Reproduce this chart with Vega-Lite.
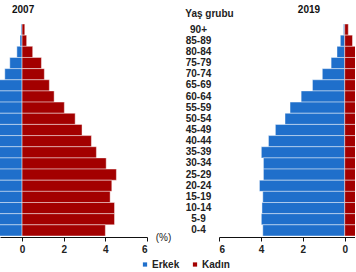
{
  "$schema": "https://vega.github.io/schema/vega-lite/v6.json",
  "padding": {"left": 0, "top": 4, "right": 0, "bottom": 0},
  "bounds": "flush",
  "spacing": 72,
  "config": {
    "view": {"stroke": null},
    "font": "Liberation Sans",
    "axis": {
      "labelFont": "Liberation Sans", "labelFontSize": 10, "labelFontWeight": "bold", "labelColor": "#222",
      "titleFont": "Liberation Sans", "titleFontSize": 10, "titleFontWeight": "bold", "titleColor": "#222",
      "grid": false, "domainColor": "#111", "tickColor": "#111"
    },
    "title": {"font": "Liberation Sans", "fontSize": 10, "fontWeight": "bold", "color": "#111"}
  },
  "data": {"values": [
    {"year": 2007, "age": "90+", "sex": "Erkek", "value": 0.05},
    {"year": 2007, "age": "85-89", "sex": "Erkek", "value": 0.1},
    {"year": 2007, "age": "80-84", "sex": "Erkek", "value": 0.25},
    {"year": 2007, "age": "75-79", "sex": "Erkek", "value": 0.59},
    {"year": 2007, "age": "70-74", "sex": "Erkek", "value": 0.83},
    {"year": 2007, "age": "65-69", "sex": "Erkek", "value": 1.15},
    {"year": 2007, "age": "60-64", "sex": "Erkek", "value": 1.45},
    {"year": 2007, "age": "55-59", "sex": "Erkek", "value": 2.0},
    {"year": 2007, "age": "50-54", "sex": "Erkek", "value": 2.55},
    {"year": 2007, "age": "45-49", "sex": "Erkek", "value": 2.95},
    {"year": 2007, "age": "40-44", "sex": "Erkek", "value": 3.4},
    {"year": 2007, "age": "35-39", "sex": "Erkek", "value": 3.65},
    {"year": 2007, "age": "30-34", "sex": "Erkek", "value": 4.1},
    {"year": 2007, "age": "25-29", "sex": "Erkek", "value": 4.6},
    {"year": 2007, "age": "20-24", "sex": "Erkek", "value": 4.4},
    {"year": 2007, "age": "15-19", "sex": "Erkek", "value": 4.3},
    {"year": 2007, "age": "10-14", "sex": "Erkek", "value": 4.6},
    {"year": 2007, "age": "5-9", "sex": "Erkek", "value": 4.6},
    {"year": 2007, "age": "0-4", "sex": "Erkek", "value": 4.2},
    {"year": 2007, "age": "90+", "sex": "Kadın", "value": 0.13},
    {"year": 2007, "age": "85-89", "sex": "Kadın", "value": 0.22},
    {"year": 2007, "age": "80-84", "sex": "Kadın", "value": 0.51},
    {"year": 2007, "age": "75-79", "sex": "Kadın", "value": 0.93},
    {"year": 2007, "age": "70-74", "sex": "Kadın", "value": 1.07},
    {"year": 2007, "age": "65-69", "sex": "Kadın", "value": 1.31},
    {"year": 2007, "age": "60-64", "sex": "Kadın", "value": 1.54},
    {"year": 2007, "age": "55-59", "sex": "Kadın", "value": 2.03},
    {"year": 2007, "age": "50-54", "sex": "Kadın", "value": 2.55},
    {"year": 2007, "age": "45-49", "sex": "Kadın", "value": 2.88},
    {"year": 2007, "age": "40-44", "sex": "Kadın", "value": 3.33},
    {"year": 2007, "age": "35-39", "sex": "Kadın", "value": 3.57},
    {"year": 2007, "age": "30-34", "sex": "Kadın", "value": 4.04},
    {"year": 2007, "age": "25-29", "sex": "Kadın", "value": 4.53},
    {"year": 2007, "age": "20-24", "sex": "Kadın", "value": 4.31},
    {"year": 2007, "age": "15-19", "sex": "Kadın", "value": 4.23},
    {"year": 2007, "age": "10-14", "sex": "Kadın", "value": 4.44},
    {"year": 2007, "age": "5-9", "sex": "Kadın", "value": 4.44},
    {"year": 2007, "age": "0-4", "sex": "Kadın", "value": 4.0},
    {"year": 2019, "age": "90+", "sex": "Erkek", "value": 0.06},
    {"year": 2019, "age": "85-89", "sex": "Erkek", "value": 0.21},
    {"year": 2019, "age": "80-84", "sex": "Erkek", "value": 0.37},
    {"year": 2019, "age": "75-79", "sex": "Erkek", "value": 0.65},
    {"year": 2019, "age": "70-74", "sex": "Erkek", "value": 1.07},
    {"year": 2019, "age": "65-69", "sex": "Erkek", "value": 1.54},
    {"year": 2019, "age": "60-64", "sex": "Erkek", "value": 2.08},
    {"year": 2019, "age": "55-59", "sex": "Erkek", "value": 2.61},
    {"year": 2019, "age": "50-54", "sex": "Erkek", "value": 2.85},
    {"year": 2019, "age": "45-49", "sex": "Erkek", "value": 3.31},
    {"year": 2019, "age": "40-44", "sex": "Erkek", "value": 3.64},
    {"year": 2019, "age": "35-39", "sex": "Erkek", "value": 3.98},
    {"year": 2019, "age": "30-34", "sex": "Erkek", "value": 3.88},
    {"year": 2019, "age": "25-29", "sex": "Erkek", "value": 3.88},
    {"year": 2019, "age": "20-24", "sex": "Erkek", "value": 4.07},
    {"year": 2019, "age": "15-19", "sex": "Erkek", "value": 3.91},
    {"year": 2019, "age": "10-14", "sex": "Erkek", "value": 3.95},
    {"year": 2019, "age": "5-9", "sex": "Erkek", "value": 3.98},
    {"year": 2019, "age": "0-4", "sex": "Erkek", "value": 3.91},
    {"year": 2019, "age": "90+", "sex": "Kadın", "value": 0.17},
    {"year": 2019, "age": "85-89", "sex": "Kadın", "value": 0.37},
    {"year": 2019, "age": "80-84", "sex": "Kadın", "value": 0.6},
    {"year": 2019, "age": "75-79", "sex": "Kadın", "value": 0.85},
    {"year": 2019, "age": "70-74", "sex": "Kadın", "value": 1.25},
    {"year": 2019, "age": "65-69", "sex": "Kadın", "value": 1.65},
    {"year": 2019, "age": "60-64", "sex": "Kadın", "value": 2.1},
    {"year": 2019, "age": "55-59", "sex": "Kadın", "value": 2.6},
    {"year": 2019, "age": "50-54", "sex": "Kadın", "value": 2.85},
    {"year": 2019, "age": "45-49", "sex": "Kadın", "value": 3.3},
    {"year": 2019, "age": "40-44", "sex": "Kadın", "value": 3.55},
    {"year": 2019, "age": "35-39", "sex": "Kadın", "value": 3.85},
    {"year": 2019, "age": "30-34", "sex": "Kadın", "value": 3.75},
    {"year": 2019, "age": "25-29", "sex": "Kadın", "value": 3.7},
    {"year": 2019, "age": "20-24", "sex": "Kadın", "value": 3.85},
    {"year": 2019, "age": "15-19", "sex": "Kadın", "value": 3.7},
    {"year": 2019, "age": "10-14", "sex": "Kadın", "value": 3.75},
    {"year": 2019, "age": "5-9", "sex": "Kadın", "value": 3.78},
    {"year": 2019, "age": "0-4", "sex": "Kadın", "value": 3.7}
  ]},
  "transform": [
    {"calculate": "datum.sex === 'Erkek' ? -datum.value : datum.value", "as": "signed"}
  ],
  "hconcat": [
    {
      "title": {"text": "2007", "anchor": "start", "dx": 12, "offset": 1.5, "baseline": "alphabetic"},
      "width": 147,
      "height": 212,
      "transform": [{"filter": "datum.year === 2007"}],
      "mark": {"type": "bar", "clip": true, "stroke": "white", "strokeWidth": 0.8, "strokeOpacity": 0.55},
      "encoding": {
        "y": {"field": "age", "type": "nominal",
          "sort": ["90+", "85-89", "80-84", "75-79", "70-74", "65-69", "60-64", "55-59", "50-54", "45-49", "40-44", "35-39", "30-34", "25-29", "20-24", "15-19", "10-14", "5-9", "0-4"],
          "scale": {"paddingInner": 0, "paddingOuter": 0}, "axis": null},
        "x": {"field": "signed", "type": "quantitative",
          "scale": {"domain": [-1.06, 6], "nice": false, "zero": false},
          "axis": {"values": [0, 2, 4, 6], "title": "(%)", "titleX": 163, "titleY": 0, "titleBaseline": "middle", "titleAlign": "center", "titleFontWeight": "normal", "titleFontSize": 10, "offset": 1, "tickSize": 4, "labelPadding": 3}},
        "color": {"field": "sex", "type": "nominal",
          "scale": {"domain": ["Erkek", "Kadın"], "range": ["#1f6fcb", "#a30000"]},
          "legend": {"orient": "none", "legendX": 140, "legendY": 235.5, "direction": "horizontal", "title": null,
            "symbolType": "square", "symbolSize": 18, "symbolStrokeWidth": 0, "labelFont": "Liberation Sans", "labelFontSize": 10, "labelFontWeight": "bold", "labelColor": "#222", "labelOffset": 2, "columnPadding": 10}}
      }
    },
    {
      "title": {"text": "2019", "anchor": "start", "dx": 113, "offset": -14.5, "baseline": "alphabetic"},
      "width": 136,
      "height": 212,
      "transform": [{"filter": "datum.year === 2019"}],
      "mark": {"type": "bar", "clip": true, "stroke": "white", "strokeWidth": 0.8, "strokeOpacity": 0.55},
      "encoding": {
        "y": {"field": "age", "type": "nominal",
          "sort": ["90+", "85-89", "80-84", "75-79", "70-74", "65-69", "60-64", "55-59", "50-54", "45-49", "40-44", "35-39", "30-34", "25-29", "20-24", "15-19", "10-14", "5-9", "0-4"],
          "scale": {"paddingInner": 0, "paddingOuter": 0},
          "axis": {"title": "Yaş grubu", "titleAngle": 0, "titleAlign": "center", "titleBaseline": "middle", "titleX": -10, "titleY": -11,
            "labelAlign": "center", "labelPadding": 21, "ticks": false, "domain": false}},
        "x": {"field": "signed", "type": "quantitative",
          "scale": {"domain": [-6, 0.49], "nice": false, "zero": false},
          "axis": {"values": [-6, -4, -2, 0], "labelExpr": "'' + abs(datum.value)", "title": null, "offset": 1, "tickSize": 4, "labelPadding": 3}},
        "color": {"field": "sex", "type": "nominal",
          "scale": {"domain": ["Erkek", "Kadın"], "range": ["#1f6fcb", "#a30000"]}}
      }
    }
  ]
}
